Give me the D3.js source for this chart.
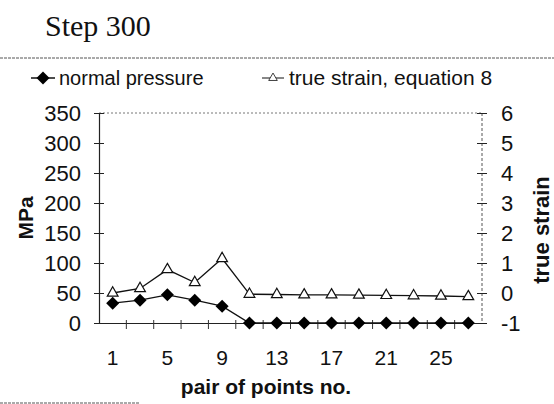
<!DOCTYPE html>
<html><head><meta charset="utf-8">
<script src="https://cdn.jsdelivr.net/npm/d3@7"></script>
<style>body{margin:0;background:#fff}svg{display:block}text{fill:#111}</style>
</head><body><svg id="c" width="554" height="404"></svg>
<script>
const categories = ["1","3","5","7","9","11","13","15","17","19","21","23","25","27"];
const pressure = [33, 38, 47, 38, 28, 0, 0, 0, 0, 0, 0, 0, 0, 0];
const strain = [0.0, 0.15, 0.78, 0.35, 1.15, -0.04, -0.05, -0.06, -0.06, -0.07, -0.08, -0.09, -0.1, -0.12];
const leftTicks = [0,50,100,150,200,250,300,350];
const rightTicks = [-1,0,1,2,3,4,5,6];
const shownLabels = ["1","5","9","13","17","21","25"];

const svg = d3.select("#c");
const L=99, R=482, T=113, B=323;
const x = d3.scaleBand().domain(categories).range([L,R]).padding(0);
const yL = d3.scaleLinear().domain([0,350]).range([B,T]);
const yR = d3.scaleLinear().domain([-1,6]).range([B,T]);
const cx = d => x(d)+x.bandwidth()/2;
const sans = "Liberation Sans, Arial, sans-serif";

// title
svg.append("text").attr("x",45).attr("y",36).attr("font-family","Liberation Serif, Times New Roman, serif")
  .attr("font-size",30).text("Step 300");
svg.append("line").attr("x1",0).attr("x2",554).attr("y1",58).attr("y2",58)
  .attr("stroke","#555").attr("stroke-width",1).attr("stroke-dasharray","3,1");
svg.append("line").attr("x1",0).attr("x2",140).attr("y1",403).attr("y2",403)
  .attr("stroke","#555").attr("stroke-width",1).attr("stroke-dasharray","3,1");

// plot border
svg.append("line").attr("x1",L).attr("x2",R).attr("y1",T).attr("y2",T).attr("stroke","#777").attr("stroke-dasharray","2,2");
svg.append("line").attr("x1",R).attr("x2",R).attr("y1",T).attr("y2",B).attr("stroke","#555").attr("stroke-dasharray","3,2");

// left axis
const gl = svg.append("g").attr("transform",`translate(${L},0)`)
  .call(d3.axisLeft(yL).tickValues(leftTicks).tickSize(5).tickPadding(13));
gl.select(".domain").attr("stroke","#222").attr("stroke-width",1.2);
gl.selectAll(".tick line").attr("x2",5).attr("x1",-5).attr("stroke","#222");
gl.selectAll("text").attr("font-family",sans).attr("font-size",22).attr("fill","#111");

// right axis
const gr = svg.append("g").attr("transform",`translate(${R},0)`)
  .call(d3.axisRight(yR).tickValues(rightTicks).tickSize(5).tickPadding(14).tickFormat(d => String(d)));
gr.select(".domain").remove();
gr.selectAll(".tick line").attr("x1",-5).attr("x2",5).attr("stroke","#222");
gr.selectAll("text").attr("font-family",sans).attr("font-size",22).attr("fill","#111");

// x axis
const gx = svg.append("g").attr("transform",`translate(0,${B})`)
  .call(d3.axisBottom(x).tickSize(0).tickPadding(27).tickFormat(d => shownLabels.includes(d)?d:""));
gx.select(".domain").attr("stroke","#222").attr("stroke-width",1.2);
gx.selectAll("text").attr("font-family",sans).attr("font-size",21).attr("fill","#111");
gx.selectAll(".bnd").data(categories.slice(1)).enter().append("line")
  .attr("x1",d=>x(d)).attr("x2",d=>x(d)).attr("y1",-3).attr("y2",6).attr("stroke","#333");

// axis titles
svg.append("text").attr("transform",`translate(33,218) rotate(-90)`).attr("text-anchor","middle")
  .attr("font-family",sans).attr("font-weight","bold").attr("font-size",21).text("MPa");
svg.append("text").attr("transform",`translate(549,230) rotate(-90)`).attr("text-anchor","middle")
  .attr("font-family",sans).attr("font-weight","bold").attr("font-size",22).text("true strain");
svg.append("text").attr("x",266).attr("y",394).attr("text-anchor","middle")
  .attr("font-family",sans).attr("font-weight","bold").attr("font-size",21).text("pair of points no.");

// series
const diamond = d3.symbol().type(d3.symbolSquare).size(85);
const tri = d3.symbol().type(d3.symbolTriangle).size(50);
const lineP = d3.line().x((d,i)=>cx(categories[i])).y(d=>yL(d));
const lineS = d3.line().x((d,i)=>cx(categories[i])).y(d=>yR(d));
svg.append("path").attr("d",lineS(strain)).attr("fill","none").attr("stroke","#111").attr("stroke-width",1.3);
svg.append("path").attr("d",lineP(pressure)).attr("fill","none").attr("stroke","#111").attr("stroke-width",1.3);
svg.selectAll(".d").data(pressure).enter().append("path").attr("d",diamond)
  .attr("transform",(d,i)=>`translate(${cx(categories[i])},${yL(d)}) rotate(45)`).attr("fill","#000");
svg.selectAll(".t").data(strain).enter().append("path").attr("d",tri)
  .attr("transform",(d,i)=>`translate(${cx(categories[i])},${yR(d)})`).attr("fill","#fff").attr("stroke","#111").attr("stroke-width",1.2);

// legend
const lg = svg.append("g").attr("transform","translate(0,78)");
lg.append("line").attr("x1",31).attr("x2",55).attr("y1",0).attr("y2",0).attr("stroke","#111").attr("stroke-width",1.5);
lg.append("path").attr("d",diamond).attr("transform","translate(43,0) rotate(45)").attr("fill","#000");
lg.append("text").attr("x",59).attr("y",7).attr("font-family",sans).attr("font-size",20).text("normal pressure");
lg.append("line").attr("x1",262).attr("x2",284).attr("y1",0).attr("y2",0).attr("stroke","#111").attr("stroke-width",1);
lg.append("path").attr("d",tri).attr("transform","translate(273,0) scale(0.8)").attr("fill","#fff").attr("stroke","#111").attr("stroke-width",1);
lg.append("text").attr("x",289).attr("y",7).attr("font-family",sans).attr("font-size",21).text("true strain, equation 8");
</script></body></html>
